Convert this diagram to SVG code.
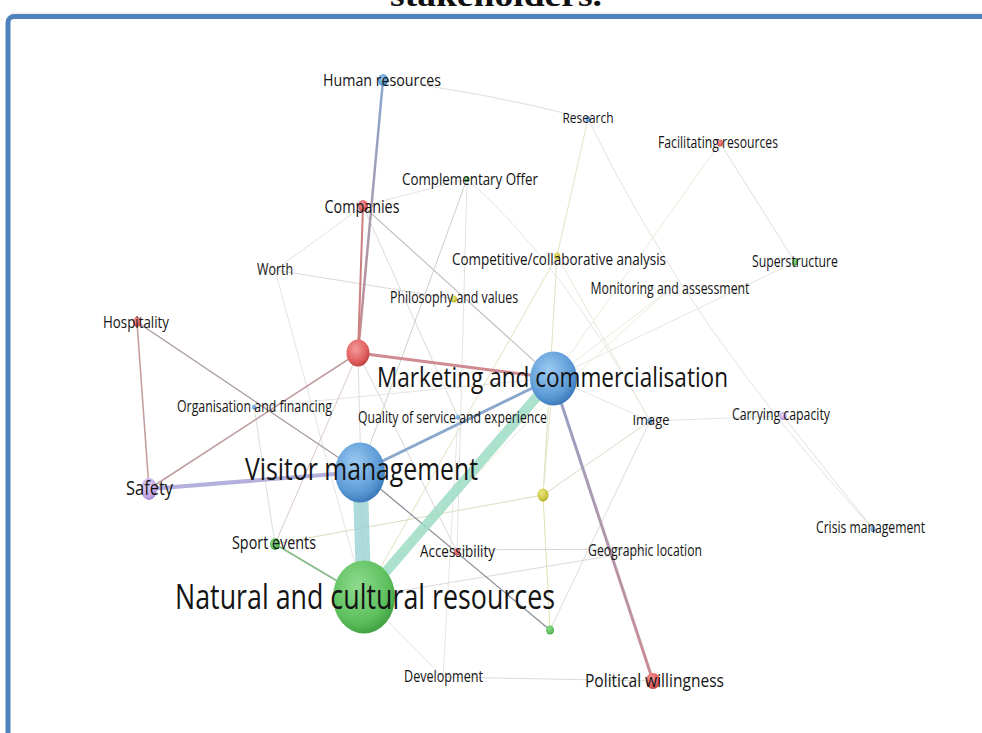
<svg xmlns="http://www.w3.org/2000/svg" width="982" height="733" viewBox="0 0 982 733">
<style>
.lbl{font-family:"Open Sans","DejaVu Sans",sans-serif;fill:#141414;text-anchor:middle}
.f{fill:none}
</style>
<defs>
<radialGradient id="gB" cx="0.4" cy="0.35" r="0.7"><stop offset="0" stop-color="#9ccbf2"/><stop offset="0.7" stop-color="#5c9ad6"/><stop offset="1" stop-color="#3673b5"/></radialGradient>
<radialGradient id="gG" cx="0.4" cy="0.35" r="0.7"><stop offset="0" stop-color="#8fdc8f"/><stop offset="0.7" stop-color="#5cbf5c"/><stop offset="1" stop-color="#3c9c3c"/></radialGradient>
<radialGradient id="gR" cx="0.4" cy="0.35" r="0.7"><stop offset="0" stop-color="#f59a9a"/><stop offset="0.7" stop-color="#e05c5c"/><stop offset="1" stop-color="#b63d3d"/></radialGradient>
<radialGradient id="gP" cx="0.4" cy="0.35" r="0.7"><stop offset="0" stop-color="#e6d6f6"/><stop offset="0.7" stop-color="#c2a6e6"/><stop offset="1" stop-color="#9c7ccc"/></radialGradient>
<radialGradient id="gY" cx="0.4" cy="0.35" r="0.7"><stop offset="0" stop-color="#e8e880"/><stop offset="0.7" stop-color="#c8c43c"/><stop offset="1" stop-color="#a4a020"/></radialGradient>
<linearGradient id="eHR" gradientUnits="userSpaceOnUse" x1="383" y1="80" x2="358" y2="353"><stop offset="0" stop-color="#88a8d0"/><stop offset="1" stop-color="#c88a8a"/></linearGradient>
<linearGradient id="eMP" gradientUnits="userSpaceOnUse" x1="553" y1="378" x2="653" y2="681"><stop offset="0" stop-color="#94a2c6"/><stop offset="1" stop-color="#cc8c94"/></linearGradient>
</defs>

<rect x="0" y="0" width="982" height="733" fill="#ffffff"/>
<text x="496" y="6" font-family="Liberation Serif" font-weight="bold" font-size="32" text-anchor="middle" textLength="212" lengthAdjust="spacingAndGlyphs" fill="#111">stakeholders.</text>
<line x1="10" y1="13" x2="982" y2="13" stroke="#e4e4e4" stroke-width="1"/>
<rect x="8" y="16.5" width="1000" height="760" rx="6" fill="none" stroke="#4f81bd" stroke-width="5"/>

<g id="connectors" stroke-width="1">
<path class="f" d="M383,80 Q485,92 588,119" stroke="#dedede"/>
<path class="f" d="M588,119 L557,256" stroke="#e4e4c4"/>
<path class="f" d="M588,119 Q690,330 873,529" stroke="#e2e2e2"/>
<path class="f" d="M720,143 L795,262" stroke="#dcdcdc"/>
<path class="f" d="M720,143 L553,378" stroke="#eaeada"/>
<path class="f" d="M795,262 L553,378" stroke="#e6e6dc"/>
<path class="f" d="M363,206 L467,179" stroke="#e2e2e2"/>
<path class="f" d="M363,206 L275,270" stroke="#e2e2e2"/>
<path class="f" d="M363,206 L553,378" stroke="#c8c0c0" stroke-width="1.2"/>
<path class="f" d="M363,206 L458,417" stroke="#dadada"/>
<path class="f" d="M275,270 L454,299" stroke="#d8d8d8"/>
<path class="f" d="M275,270 L364,597" stroke="#e2e2e2"/>
<path class="f" d="M467,179 L360,472" stroke="#c8d2c8"/>
<path class="f" d="M467,179 L457,552" stroke="#dfe3df"/>
<path class="f" d="M467,179 Q560,260 650,421" stroke="#e6e6e6"/>
<path class="f" d="M557,256 L364,597" stroke="#e2e2c2"/>
<path class="f" d="M557,256 L543,495" stroke="#e2e2c2"/>
<path class="f" d="M557,256 L650,421" stroke="#e8e8d8"/>
<path class="f" d="M670,289 Q520,420 364,597" stroke="#ececdc"/>
<path class="f" d="M254,407 L553,378" stroke="#e4e4e4"/>
<path class="f" d="M254,407 L275,544" stroke="#d8e0d8"/>
<path class="f" d="M275,544 L358,353" stroke="#d8c8c8"/>
<path class="f" d="M275,544 L543,495" stroke="#d8dcc0"/>
<path class="f" d="M543,495 L650,421" stroke="#dadcc4"/>
<path class="f" d="M543,495 L550,630" stroke="#e0e0b4"/>
<path class="f" d="M543,495 L553,378" stroke="#e4e4c8"/>
<path class="f" d="M457,550 L645,549" stroke="#d4d4d4"/>
<path class="f" d="M364,597 L645,550" stroke="#dadada"/>
<path class="f" d="M650,421 L550,630" stroke="#dcdcdc"/>
<path class="f" d="M650,421 L783,416" stroke="#e2e2e2"/>
<path class="f" d="M783,416 L873,529" stroke="#dedede"/>
<path class="f" d="M443,677 L653,681" stroke="#d8dcd0"/>
<path class="f" d="M443,677 L364,597" stroke="#e2e2e2"/>
<path class="f" d="M553,378 L650,421" stroke="#e6e6e6"/>
<path class="f" d="M553,378 L670,289" stroke="#e8ecd8"/>
<path class="f" d="M358,353 L364,597" stroke="#e4d8d8"/>
<path class="f" d="M358,353 L457,552" stroke="#e0d4d4"/>
<path class="f" d="M443,677 L458,417" stroke="#e6e6e6"/>

<path class="f" d="M383,80 L358,353" stroke="url(#eHR)" stroke-width="2.5"/>
<path class="f" d="M363,206 L358,353" stroke="#cc7f7f" stroke-width="2"/>
<path class="f" d="M358,353 L149,489" stroke="#c09a9e" stroke-width="1.5"/>
<path class="f" d="M137,322 L149,489" stroke="#c49a9a" stroke-width="1.5"/>
<path class="f" d="M137,322 L360,472" stroke="#a8989e" stroke-width="1.2"/>
<path class="f" d="M275,544 L364,597" stroke="#88bc88" stroke-width="2"/>
<path class="f" d="M360,472 L550,630" stroke="#8c9099" stroke-width="1.3"/>
<path class="f" d="M358,353 L553,378" stroke="#cf8a92" stroke-width="3"/>
<path class="f" d="M149,489 L360,472" stroke="#b4b0dc" stroke-width="4"/>
<path class="f" d="M553,378 L653,681" stroke="url(#eMP)" stroke-width="3"/>
<path class="f" d="M360,472 L553,378" stroke="#8aa8cc" stroke-width="3"/>
<path class="f" d="M553,378 L364,597" stroke="#9cdcc4" stroke-width="10" stroke-opacity="0.85"/>
<path class="f" d="M360,472 L364,597" stroke="#9fd3d3" stroke-width="15" stroke-opacity="0.85"/>
</g>

<g id="n-human-resources"><ellipse cx="383" cy="80" rx="5" ry="6" fill="url(#gB)"/><text class="lbl" x="382" y="86" font-size="17" textLength="118" lengthAdjust="spacingAndGlyphs">Human resources</text></g>
<g id="n-research"><ellipse cx="588" cy="119" rx="2.5" ry="3" fill="url(#gB)"/><text class="lbl" x="588" y="123" font-size="15" textLength="51" lengthAdjust="spacingAndGlyphs">Research</text></g>
<g id="n-facilitating"><ellipse cx="720" cy="143" rx="3" ry="3.5" fill="url(#gR)"/><text class="lbl" x="718" y="148" font-size="16" textLength="120" lengthAdjust="spacingAndGlyphs">Facilitating resources</text></g>
<g id="n-complementary"><ellipse cx="467" cy="179" rx="2.5" ry="3" fill="url(#gG)"/><text class="lbl" x="470" y="185" font-size="16.5" textLength="136" lengthAdjust="spacingAndGlyphs">Complementary Offer</text></g>
<g id="n-companies"><ellipse cx="363" cy="206" rx="5" ry="6" fill="url(#gR)"/><text class="lbl" x="362" y="213" font-size="18" textLength="75" lengthAdjust="spacingAndGlyphs">Companies</text></g>
<g id="n-competitive"><ellipse cx="557" cy="256" rx="3" ry="3.5" fill="url(#gY)"/><text class="lbl" x="559" y="265" font-size="16" textLength="214" lengthAdjust="spacingAndGlyphs">Competitive/collaborative analysis</text></g>
<g id="n-superstructure"><ellipse cx="795" cy="262" rx="3" ry="3.5" fill="url(#gG)"/><text class="lbl" x="795" y="267" font-size="16" textLength="86" lengthAdjust="spacingAndGlyphs">Superstructure</text></g>
<g id="n-worth"><text class="lbl" x="275" y="275" font-size="16" textLength="36" lengthAdjust="spacingAndGlyphs">Worth</text></g>
<g id="n-monitoring"><text class="lbl" x="670" y="294" font-size="16" textLength="159" lengthAdjust="spacingAndGlyphs">Monitoring and assessment</text></g>
<g id="n-philosophy"><ellipse cx="454" cy="299" rx="3" ry="3.5" fill="url(#gY)"/><text class="lbl" x="454" y="303" font-size="16" textLength="128" lengthAdjust="spacingAndGlyphs">Philosophy and values</text></g>
<g id="n-hospitality"><ellipse cx="137" cy="322" rx="4" ry="5" fill="url(#gR)"/><text class="lbl" x="136" y="328" font-size="17" textLength="66" lengthAdjust="spacingAndGlyphs">Hospitality</text></g>
<g id="n-red"><ellipse cx="358" cy="353" rx="11.5" ry="13.5" fill="url(#gR)"/></g>
<g id="n-marketing"><ellipse cx="553.5" cy="378.5" rx="23.5" ry="27" fill="url(#gB)"/><text class="lbl" x="552.5" y="387" font-size="28" textLength="351" lengthAdjust="spacingAndGlyphs">Marketing and commercialisation</text></g>
<g id="n-organisation"><ellipse cx="254" cy="407" rx="2" ry="2.5" fill="url(#gB)"/><text class="lbl" x="254.5" y="412" font-size="16" textLength="155" lengthAdjust="spacingAndGlyphs">Organisation and financing</text></g>
<g id="n-quality"><ellipse cx="458" cy="417" rx="2" ry="2.5" fill="url(#gB)"/><text class="lbl" x="452.5" y="423" font-size="15.5" textLength="189" lengthAdjust="spacingAndGlyphs">Quality of service and experience</text></g>
<g id="n-image"><ellipse cx="650" cy="421" rx="2.5" ry="3" fill="url(#gB)"/><text class="lbl" x="651" y="425" font-size="15" textLength="37" lengthAdjust="spacingAndGlyphs">Image</text></g>
<g id="n-carrying"><ellipse cx="783" cy="416" rx="3.5" ry="4" fill="url(#gP)"/><text class="lbl" x="781" y="420" font-size="16" textLength="98" lengthAdjust="spacingAndGlyphs">Carrying capacity</text></g>
<g id="n-visitor"><ellipse cx="360" cy="472.5" rx="25" ry="30" fill="url(#gB)"/><text class="lbl" x="361.5" y="480" font-size="31" textLength="233" lengthAdjust="spacingAndGlyphs">Visitor management</text></g>
<g id="n-safety"><ellipse cx="149" cy="489" rx="8" ry="11" fill="url(#gP)"/><text class="lbl" x="149.5" y="495" font-size="20" textLength="47" lengthAdjust="spacingAndGlyphs">Safety</text></g>
<g id="n-yellow"><ellipse cx="543" cy="495" rx="5.5" ry="6.5" fill="url(#gY)"/></g>
<g id="n-crisis"><ellipse cx="873" cy="529" rx="2.5" ry="3" fill="url(#gB)"/><text class="lbl" x="870.5" y="533" font-size="16" textLength="109" lengthAdjust="spacingAndGlyphs">Crisis management</text></g>
<g id="n-sport"><ellipse cx="275" cy="544" rx="5" ry="6" fill="url(#gG)"/><text class="lbl" x="274" y="549" font-size="17.5" textLength="84" lengthAdjust="spacingAndGlyphs">Sport events</text></g>
<g id="n-accessibility"><ellipse cx="457" cy="552" rx="3" ry="3.5" fill="url(#gR)"/><text class="lbl" x="457.5" y="557" font-size="17" textLength="75" lengthAdjust="spacingAndGlyphs">Accessibility</text></g>
<g id="n-geographic"><text class="lbl" x="645" y="556" font-size="16" textLength="114" lengthAdjust="spacingAndGlyphs">Geographic location</text></g>
<g id="n-natural"><ellipse cx="364" cy="597" rx="31" ry="36.5" fill="url(#gG)"/><text class="lbl" x="365" y="609" font-size="34" textLength="380" lengthAdjust="spacingAndGlyphs">Natural and cultural resources</text></g>
<g id="n-green-small"><ellipse cx="550" cy="630" rx="4" ry="4.5" fill="url(#gG)"/></g>
<g id="n-development"><text class="lbl" x="443.5" y="682" font-size="16" textLength="79" lengthAdjust="spacingAndGlyphs">Development</text></g>
<g id="n-political"><ellipse cx="653" cy="681" rx="7" ry="8" fill="url(#gR)"/><text class="lbl" x="654.5" y="687" font-size="19" textLength="139" lengthAdjust="spacingAndGlyphs">Political willingness</text></g>
</svg>
